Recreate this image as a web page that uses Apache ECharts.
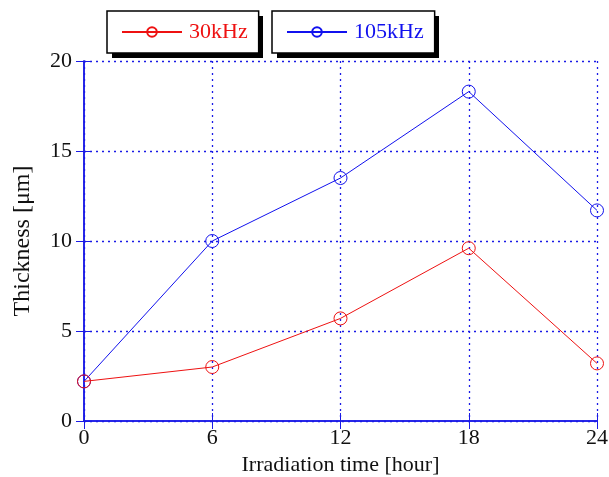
<!DOCTYPE html>
<html>
<head>
<meta charset="utf-8">
<script src="https://cdn.jsdelivr.net/npm/echarts@6/dist/echarts.min.js"></script>
<style>
  html, body { margin: 0; padding: 0; background: #fff; }
  #chart { width: 609px; height: 477px; }
</style>
</head>
<body>
<div id="chart"></div>
<script>
var hours = [0, 6, 12, 18, 24]
var khz30 = [2.2, 3.0, 5.7, 9.6, 3.2]
var khz105 = [2.2, 10.0, 13.5, 18.3, 11.7]
var seriesNames = ['30kHz', '105kHz']
var seriesColors = ['#ee1111', '#1111ee']

var font = 'Liberation Serif'
var axisBlue = '#1a1ae6'

function pairs(xs, ys) {
  return xs.map(function(x, i) { return [x, ys[i]] })
}

function legendBox(name, color, left) {
  return {
    data: [name],
    left: left,
    top: 11,
    orient: 'horizontal',
    itemWidth: 60,
    itemHeight: 12,
    itemGap: 0,
    padding: [10, 11, 10, 14],
    backgroundColor: '#fff',
    borderColor: '#000',
    borderWidth: 1.5,
    borderRadius: 0,
    selectedMode: false,
    z: 10,
    textStyle: { color: color, fontFamily: font, fontSize: 22, padding: [0, 0, 0, 2] }
  }
}

// black drop shadows under the two legend boxes
function shadowBox(left, width) {
  return {
    type: 'rect',
    left: left + 5,
    top: 16,
    z: 1,
    shape: { width: width, height: 42 },
    style: { fill: '#000' }
  }
}

var option = {
  animation: false,
  backgroundColor: '#fff',
  legend: [
    legendBox(seriesNames[0], seriesColors[0], 107),
    legendBox(seriesNames[1], seriesColors[1], 272)
  ],
  graphic: [shadowBox(107, 151), shadowBox(272, 162)],
  grid: { left: 84, right: 12, top: 61, bottom: 56, containLabel: false, outerBoundsMode: 'none' },
  xAxis: [
    {
      type: 'value',
      min: 0,
      max: 24,
      interval: 6,
      name: 'Irradiation time [hour]',
      nameLocation: 'middle',
      nameGap: 33,
      nameTextStyle: { color: '#111', fontFamily: font, fontSize: 22 },
      axisLine: { show: true, lineStyle: { color: axisBlue, width: 1.5 } },
      axisTick: { show: true, inside: true, length: 8, lineStyle: { color: axisBlue } },
      axisLabel: { color: '#111', fontFamily: font, fontSize: 22, margin: 6 },
      splitLine: { show: true, lineStyle: { color: axisBlue, type: [2, 4], width: 1.3 } }
    },
    {
      type: 'value',
      position: 'top',
      min: 0,
      max: 24,
      interval: 6,
      axisLine: { show: true, lineStyle: { color: axisBlue, width: 1.5 } },
      axisTick: { show: true, inside: true, length: 8, lineStyle: { color: axisBlue } },
      axisLabel: { show: false },
      splitLine: { show: false }
    }
  ],
  yAxis: [
    {
      type: 'value',
      min: 0,
      max: 20,
      interval: 5,
      name: 'Thickness [μm]',
      nameLocation: 'middle',
      nameGap: 49,
      nameTextStyle: { color: '#111', fontFamily: font, fontSize: 24 },
      axisLine: { show: true, lineStyle: { color: axisBlue, width: 1.5 } },
      axisTick: { show: true, inside: true, length: 8, lineStyle: { color: axisBlue } },
      axisLabel: { color: '#111', fontFamily: font, fontSize: 22, margin: 12 },
      splitLine: { show: true, lineStyle: { color: axisBlue, type: [2, 4], width: 1.3 } }
    },
    {
      type: 'value',
      position: 'right',
      min: 0,
      max: 20,
      interval: 5,
      axisLine: { show: true, lineStyle: { color: axisBlue, width: 1.5 } },
      axisTick: { show: true, inside: true, length: 8, lineStyle: { color: axisBlue } },
      axisLabel: { show: false },
      splitLine: { show: false }
    }
  ],
  series: [
    {
      name: seriesNames[1],
      type: 'line',
      data: pairs(hours, khz105),
      symbol: 'circle',
      symbolSize: 13,
      clip: false,
      color: seriesColors[1],
      lineStyle: { color: seriesColors[1], width: 1 },
      itemStyle: { color: 'rgba(255,255,255,0)', borderColor: seriesColors[1], borderWidth: 1 },
      z: 3
    },
    {
      name: seriesNames[0],
      type: 'line',
      data: pairs(hours, khz30),
      symbol: 'circle',
      symbolSize: 13,
      clip: false,
      color: seriesColors[0],
      lineStyle: { color: seriesColors[0], width: 1 },
      itemStyle: { color: 'rgba(255,255,255,0)', borderColor: seriesColors[0], borderWidth: 1 },
      z: 4
    }
  ]
}

var chart = echarts.init(document.getElementById('chart'))
chart.setOption(option, true)
</script>
</body>
</html>
